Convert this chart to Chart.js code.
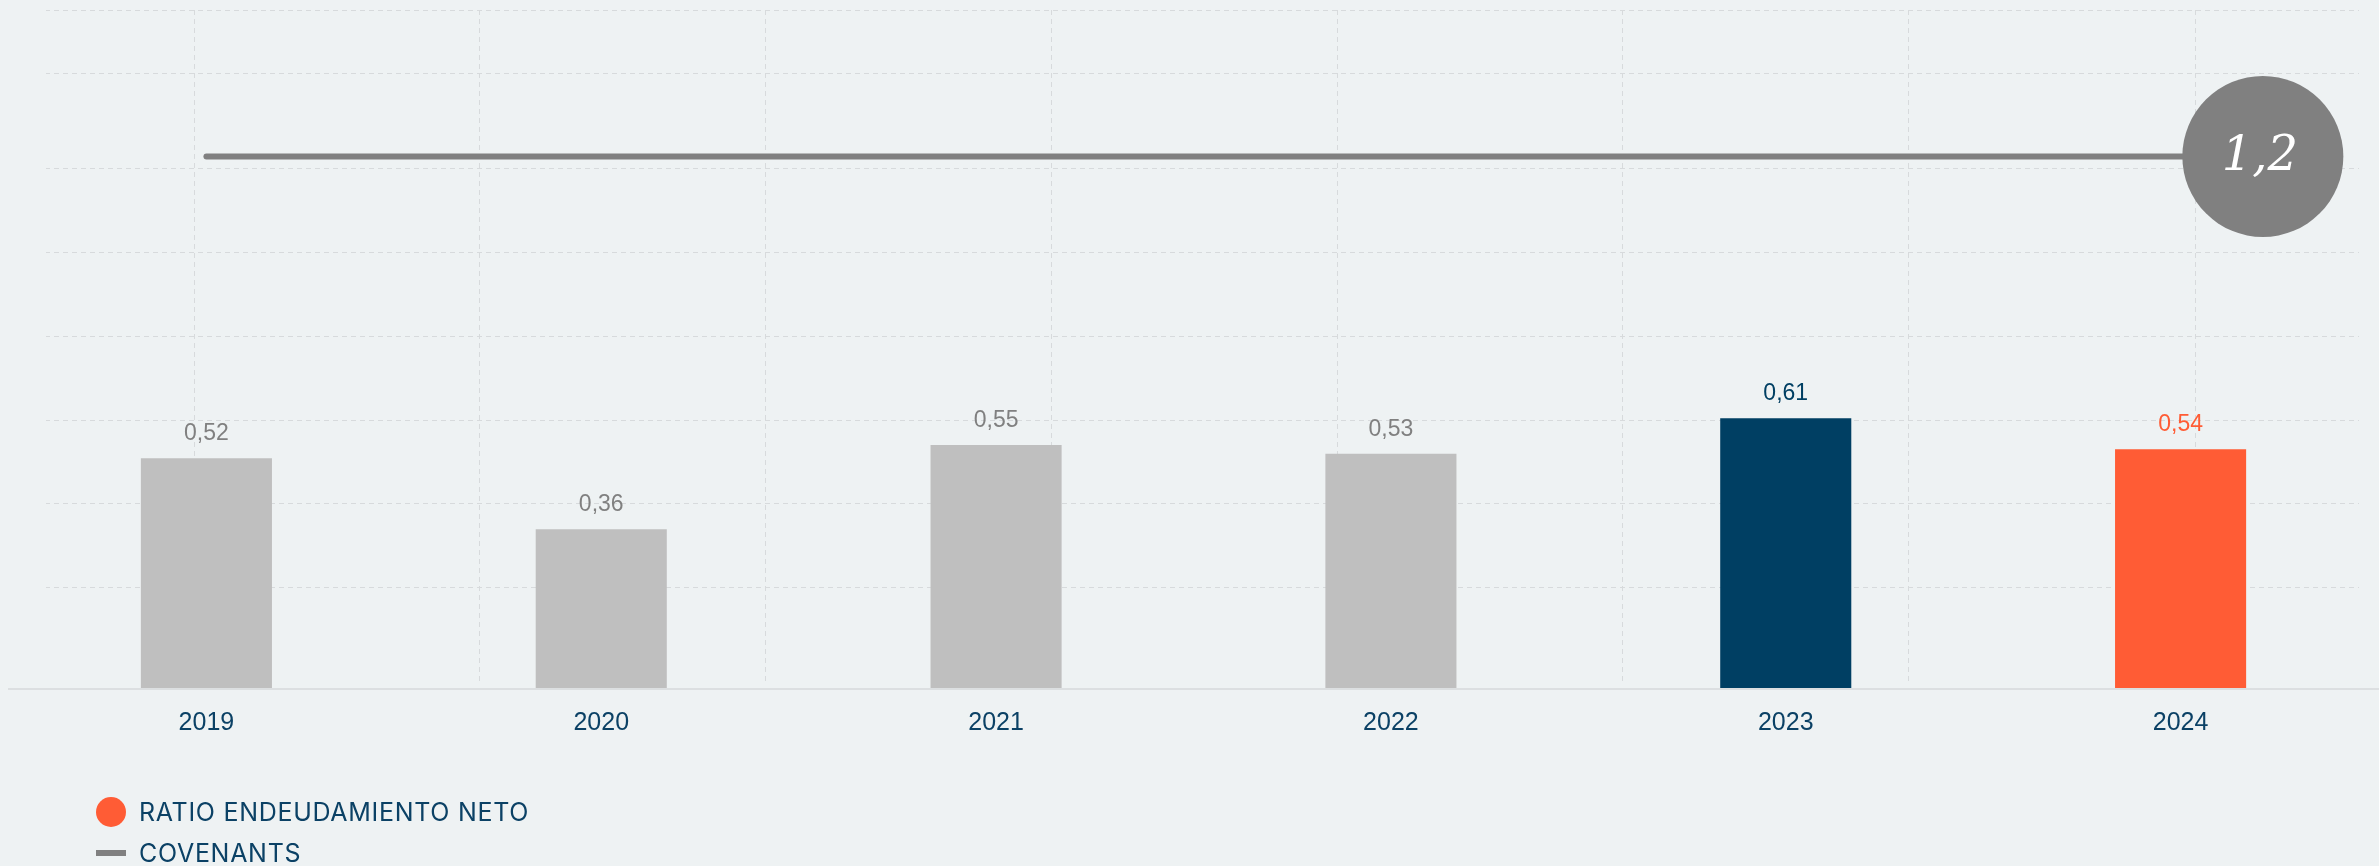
<!DOCTYPE html>
<html><head><meta charset="utf-8">
<script src="https://cdn.jsdelivr.net/npm/chart.js@4.4.1/dist/chart.umd.min.js"></script>
<style>
html,body{margin:0;padding:0;background:#eef2f3;}
#wrap{position:relative;width:2379px;height:866px;overflow:hidden;}
#legend{position:absolute;left:96px;top:791px;font-family:Inter, "Noto Sans", sans-serif;font-size:25px;color:#0b4165;letter-spacing:0.7px;}
.item{display:flex;align-items:center;height:41px;}
.sw{width:30px;height:30px;display:flex;justify-content:center;align-items:center;margin-right:13px;}
.dot{width:30px;height:30px;border-radius:50%;}
.bar{width:30px;height:6px;}
</style></head>
<body><div id="wrap"><canvas id="c" width="2379" height="866"></canvas><div id="legend"></div></div>
<script>
const categories = ['2019', '2020', '2021', '2022', '2023', '2024'];
const ratioValues = [0.52, 0.36, 0.55, 0.53, 0.61, 0.54];
const covenantValues = [1.2, 1.2, 1.2, 1.2, 1.2, 1.2];
const barColors = ['#bfbfbf', '#bfbfbf', '#bfbfbf', '#bfbfbf', '#003f63', '#ff5c35'];
const valueLabelColors = ['#808080', '#808080', '#808080', '#808080', '#003f63', '#ff5c35'];
const seriesNames = ['RATIO ENDEUDAMIENTO NETO', 'COVENANTS'];
const seriesColors = ['#ff5c35', '#808080'];
// background grid positions (styling only)
const gridYValues = [0.228, 0.418, 0.606, 0.795, 0.983, 1.173, 1.388, 1.53];
const gridXValues = [0.0781, 0.1988, 0.3195, 0.4399, 0.5606, 0.6813, 0.8020, 0.9228];

const fmt = v => String(v).replace('.', ',');
const TEXT_BLUE = '#0b4165';

const gridClip = {
  id: 'gridClip',
  beforeDraw(chart) {
    const c = chart.ctx, a = chart.chartArea;
    c.save(); c.beginPath();
    c.rect(46, a.top, 2359 - 46, a.bottom - a.top - 4);
    c.clip();
  },
  beforeDatasetsDraw(chart) { chart.ctx.restore(); }
};

const valueLabels = {
  id: 'valueLabels',
  afterDatasetsDraw(chart) {
    const c = chart.ctx;
    const barMeta = chart.getDatasetMeta(1);
    c.save();
    c.font = '23px "Liberation Sans"';
    c.textAlign = 'center';
    c.textBaseline = 'alphabetic';
    barMeta.data.forEach((el, i) => {
      c.fillStyle = valueLabelColors[i];
      c.fillText(fmt(ratioValues[i].toFixed(2)), el.x, el.y - 18);
    });
    const lineMeta = chart.getDatasetMeta(0);
    const last = lineMeta.data[lineMeta.data.length - 1];
    c.fillStyle = '#ffffff';
    c.font = 'italic 48px "DejaVu Serif"';
    c.textBaseline = 'middle';
    c.fillText(fmt(covenantValues[covenantValues.length - 1]), last.x - 3, last.y + 1);
    c.restore();
  }
};

const chart = new Chart(document.getElementById('c'), {
  type: 'bar',
  data: {
    labels: categories,
    datasets: [
      {
        type: 'line', label: seriesNames[1], data: covenantValues,
        xAxisID: 'xl', yAxisID: 'y',
        borderColor: seriesColors[1], borderWidth: 6, borderCapStyle: 'round',
        pointRadius: covenantValues.map((v, i) => i === covenantValues.length - 1 ? 80.5 : 0),
        pointBackgroundColor: seriesColors[1], pointBorderWidth: 0, pointBorderColor: seriesColors[1],
        fill: false, tension: 0, order: 0, clip: false
      },
      {
        type: 'bar', label: seriesNames[0], data: ratioValues,
        xAxisID: 'x', yAxisID: 'y', grouped: false,
        backgroundColor: barColors, borderWidth: 0,
        barPercentage: 0.332, categoryPercentage: 1, order: 1
      }
    ]
  },
  options: {
    responsive: false, animation: false, events: [],
    layout: { autoPadding: false, padding: { left: 9, right: 1, top: 10, bottom: 109 } },
    plugins: { legend: { display: false }, tooltip: { enabled: false } },
    scales: {
      x: {
        type: 'category', position: 'bottom', offset: true,
        grid: { display: false, drawTicks: false },
        border: { display: true, color: '#dcdfe1', width: 2, z: 1 },
        ticks: { color: TEXT_BLUE, font: { family: 'Liberation Sans', size: 25 }, padding: 19, z: 1 }
      },
      xl: {
        type: 'linear', display: false, offset: false, grid: { offset: false },
        min: 2018.52, max: 2024.28
      },
      xg: {
        type: 'linear', position: 'top', min: 0, max: 1, offset: false,
        grid: { color: '#d7dadc', lineWidth: 1, drawTicks: false, offset: false },
        border: { display: false, dash: [5, 4] },
        ticks: { display: false },
        afterBuildTicks: s => { s.ticks = gridXValues.map(v => ({ value: v })); }
      },
      y: { type: 'linear', display: false, min: 0, max: 1.53 },
      yg: {
        type: 'linear', position: 'left', min: 0, max: 1.53,
        grid: { color: '#d7dadc', lineWidth: 1, drawTicks: false },
        border: { display: false, dash: [5, 4] },
        ticks: { display: false },
        afterBuildTicks: s => { s.ticks = gridYValues.map(v => ({ value: v })); }
      }
    }
  },
  plugins: [gridClip, valueLabels]
});

const legend = document.getElementById('legend');
seriesNames.forEach((name, i) => {
  const item = document.createElement('div'); item.className = 'item';
  const sw = document.createElement('div'); sw.className = 'sw';
  const mark = document.createElement('div'); mark.className = i === 0 ? 'dot' : 'bar';
  mark.style.background = seriesColors[i];
  sw.appendChild(mark);
  const t = document.createElement('span'); t.textContent = name;
  item.appendChild(sw); item.appendChild(t);
  legend.appendChild(item);
});
</script>
</body></html>
